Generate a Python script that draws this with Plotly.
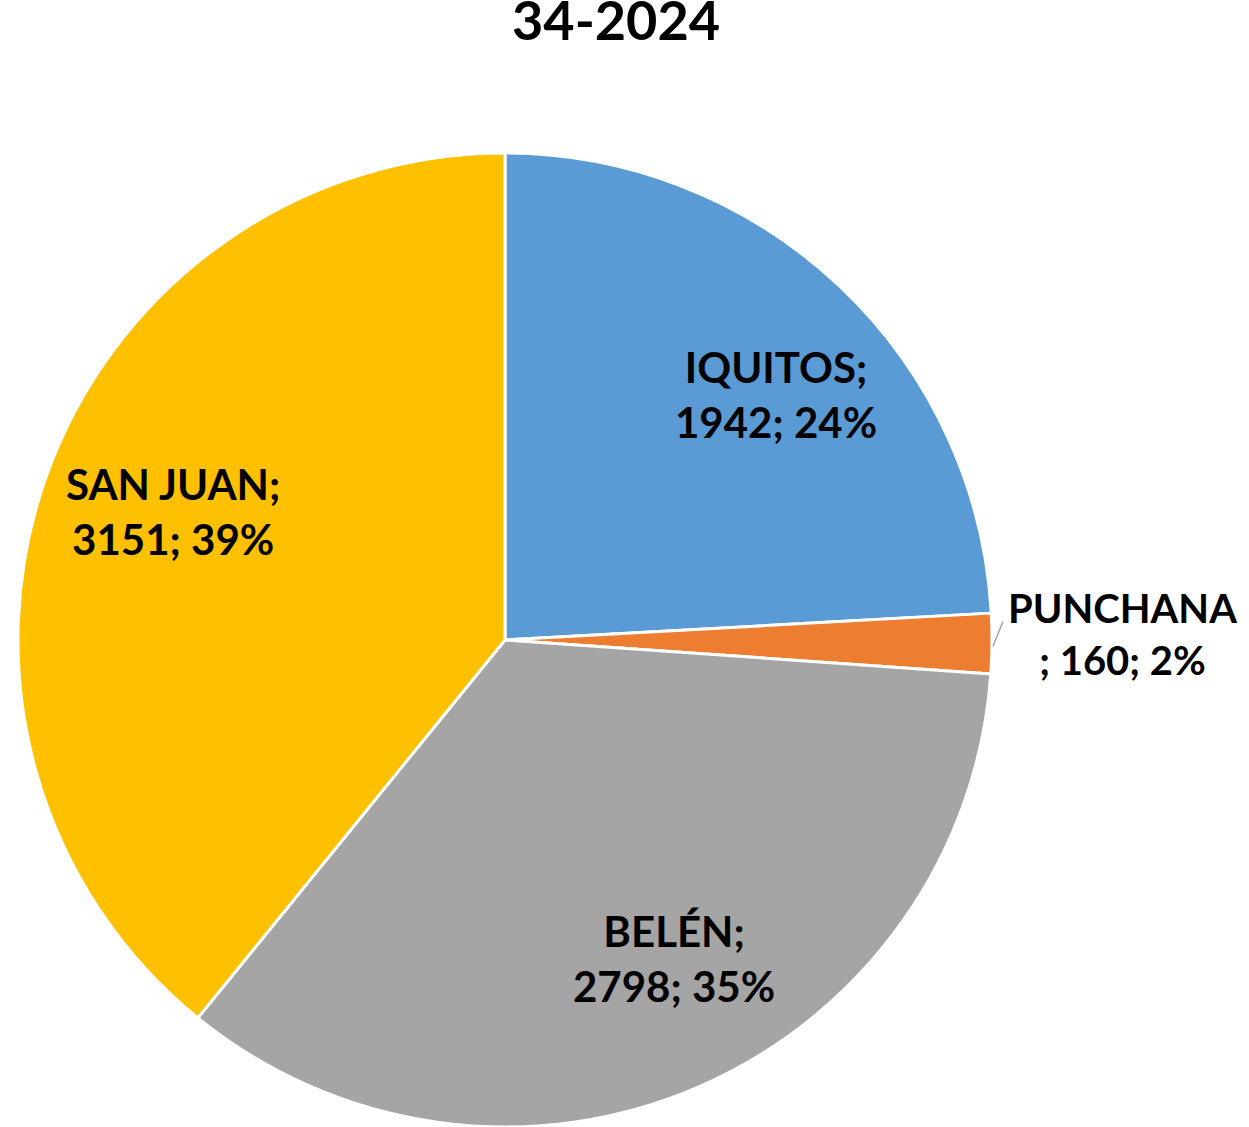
import math
import plotly.graph_objects as go

labels = ["IQUITOS", "PUNCHANA", "BELÉN", "SAN JUAN"]
values = [1942, 160, 2798, 3151]
colors = ["#5B9BD5", "#ED7D31", "#A5A5A5", "#FFC000"]
title_text = "34-2024"

W, H = 1249, 1127
# pie geometry (pixels)
cx_px, cy_px, R = 505, 640, 487
x0, x1 = (cx_px - R) / W, (cx_px + R) / W
y1 = 1 - (cy_px - R) / H
y0 = max(0.0, 1 - (cy_px + R) / H)

FONT = "Lato, Calibri, 'Open Sans', sans-serif"

fig = go.Figure(go.Pie(
    labels=labels, values=values, sort=False, direction="clockwise", rotation=0,
    marker=dict(colors=colors, line=dict(color="white", width=3)),
    textinfo="none", hoverinfo="label+value+percent",
    domain=dict(x=[x0, x1], y=[y0, y1]), showlegend=False,
))

total = sum(values)
annotations = []
shapes = []
cum = 0.0
# radial position (fraction of R) and pixel nudges for label placement
label_r = {"IQUITOS": 0.75, "PUNCHANA": 1.26, "BELÉN": 0.74, "SAN JUAN": 0.73}
nudge = {"IQUITOS": (20, 20), "PUNCHANA": (4, -10), "BELÉN": (26, -12), "SAN JUAN": (3, -10)}
for lab, v in zip(labels, values):
    frac = v / total
    mid = (cum + frac / 2) * 2 * math.pi
    cum += frac
    pct = round(frac * 100)
    s, c = math.sin(mid), math.cos(mid)
    r = label_r[lab] * R
    px = cx_px + r * s + nudge[lab][0]
    py = cy_px - r * c + nudge[lab][1]
    size = 42
    if lab == "PUNCHANA":
        ex, ey = cx_px + R * s, cy_px - R * c
        shapes.append(dict(type="line", xref="paper", yref="paper",
                           x0=(ex + 1) / W, y0=1 - (ey + 3) / H,
                           x1=(ex + 11) / W, y1=1 - (ey - 22) / H,
                           line=dict(color="#A5A5A5", width=1.5)))
        text = f"{lab}<br>; {v}; {pct}%"
        size = 40
    else:
        text = f"{lab};<br>{v}; {pct}%"
    annotations.append(dict(x=px / W, y=1 - py / H, xref="paper", yref="paper",
                            text=f"<b>{text}</b>", showarrow=False,
                            xanchor="center", yanchor="middle",
                            font=dict(family=FONT, size=size, color="black")))

annotations.append(dict(x=616 / W, y=1 - 19 / H, xref="paper", yref="paper",
                        text=f"<b>{title_text}</b>", showarrow=False,
                        xanchor="center", yanchor="middle",
                        font=dict(family=FONT, size=54, color="black")))

fig.update_layout(
    width=W, height=H, margin=dict(l=0, r=0, t=0, b=0),
    paper_bgcolor="white", plot_bgcolor="white",
    annotations=annotations, shapes=shapes,
)
fig.write_html("out.html", config={"displayModeBar": False},
               post_script="document.body.style.margin='0px';document.body.style.padding='0px';")
